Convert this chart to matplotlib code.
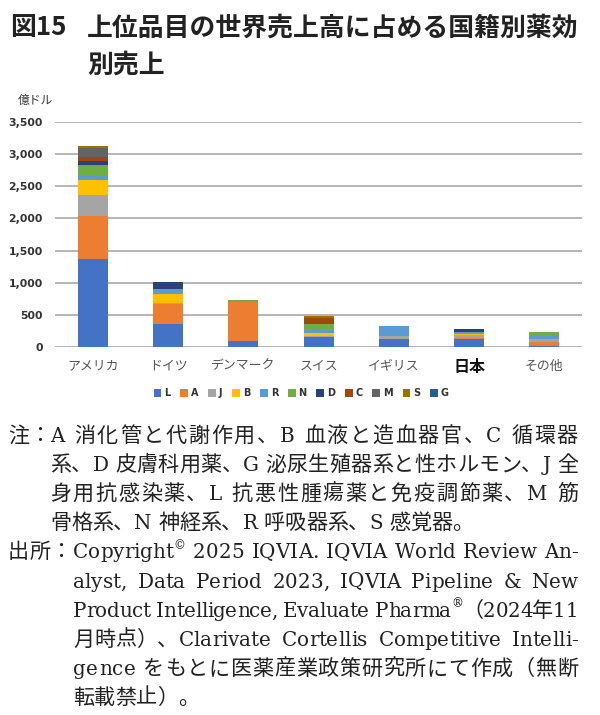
import numpy as np
import matplotlib
matplotlib.use('Agg')
import matplotlib.pyplot as plt
from matplotlib.patches import Patch
from matplotlib.font_manager import FontProperties, findfont, get_font

plt.rcParams['font.family'] = ['Noto Sans CJK JP', 'DejaVu Sans']

# データ（億ドル）
countries = ['アメリカ', 'ドイツ', 'デンマーク', 'スイス', 'イギリス', '日本', 'その他']
series_names = ['L', 'A', 'J', 'B', 'R', 'N', 'D', 'C', 'M', 'S', 'G']
L = [1374, 353, 98, 152, 120, 125, 12]
A = [669, 316, 607, 0, 5, 15, 62]
J = [320, 15, 0, 22, 50, 40, 53]
B = [235, 140, 0, 40, 0, 15, 0]
R = [78, 75, 0, 68, 157, 35, 67]
N = [155, 10, 26, 78, 0, 0, 36]
D = [62, 95, 0, 0, 0, 50, 0]
C = [67, 0, 0, 93, 0, 0, 0]
M = [135, 0, 0, 0, 0, 0, 0]
S = [30, 0, 0, 25, 0, 0, 0]
G = [5, 0, 0, 0, 0, 0, 0]
yticks = [0, 500, 1000, 1500, 2000, 2500, 3000, 3500]

colors = ['#4472C4', '#ED7D31', '#A5A5A5', '#FFC000', '#5B9BD5', '#70AD47',
          '#264478', '#9E480E', '#636363', '#997300', '#255E91']
series = [L, A, J, B, R, N, D, C, M, S, G]

W, H = 600, 715
fig = plt.figure(figsize=(W / 100, H / 100), dpi=100)
ax = fig.add_axes([0.092, 0.5147, 0.878, 0.3147])

x = np.arange(len(countries))
bottom = np.zeros(len(countries))
for name, vals, col in zip(series_names, series, colors):
    vals = np.array(vals, dtype=float)
    ax.bar(x, vals, 0.4, bottom=bottom, color=col, zorder=3)
    bottom += vals

ax.set_xlim(-0.5, len(countries) - 0.5)
ax.set_ylim(0, 3500)
ax.set_yticks(yticks)
ax.set_yticklabels([f'{v:,}' for v in yticks], fontsize=7.8, fontweight='bold',
                   color='#333333', family=['DejaVu Sans'])
ax.grid(axis='y', color='#b0b0b0', linewidth=1.3, zorder=0)
for s in ax.spines.values():
    s.set_visible(False)
ax.tick_params(axis='both', length=0)
ax.tick_params(axis='y', pad=9)
ax.set_xticks(x)
ax.set_xticklabels(countries, fontsize=9.3, color='#555555')
for lab in ax.get_xticklabels():
    if lab.get_text() == '日本':
        lab.set_fontsize(11.5)
        lab.set_fontweight('bold')
        lab.set_color('#111111')
ax.tick_params(axis='x', pad=9)

fig.text(0.03, 0.86, '億ドル', fontsize=8.5, color='#333333', va='center')

handles = [Patch(facecolor=c, label=n) for n, c in zip(series_names, colors)]
leg = fig.legend(handles=handles, loc='center', bbox_to_anchor=(0.502, 0.45),
                 ncol=len(handles), frameon=False, handlelength=0.8,
                 handleheight=0.8, handletextpad=0.3, columnspacing=1.0,
                 prop={'family': 'DejaVu Sans', 'size': 7, 'weight': 'bold'})
for t in leg.get_texts():
    t.set_color('#333333')

# タイトル
fig.text(0.017, 0.961, '図15', fontsize=18.6, fontweight='bold', va='center', color='#222222')
fig.text(0.145, 0.961, '上位品目の世界売上高に占める国籍別薬効', fontsize=18.6,
         fontweight='bold', va='center', color='#222222')
fig.text(0.145, 0.909, '別売上', fontsize=18.6, fontweight='bold', va='center', color='#222222')

# 注・出所（1文字ずつ配置して両端揃え）
cjk_size = 15.2
lat_size = 14.3
lat_font = get_font(findfont(FontProperties(family='DejaVu Serif')))
cjk_font = get_font(findfont(FontProperties(family='Noto Sans CJK JP')))


def char_style(c, sup):
    if ord(c) < 0x2000 and lat_font.get_char_index(ord(c)):
        size = lat_size * (0.6 if sup else 1)
        return lat_font, 'DejaVu Serif', size
    return cjk_font, 'Noto Sans CJK JP', cjk_size


def advance(c, sup):
    f, fam, size = char_style(c, sup)
    f.set_size(size, 100)
    g = f.load_char(ord(c))
    return g.linearHoriAdvance / 65536


def parse(txt):
    out = []
    sup = False
    for c in txt:
        if c == '^':
            sup = True
            continue
        out.append((c, sup))
        sup = False
    return out


def draw_line(txt, x0, base, x1=None, mode='chars'):
    toks = parse(txt)
    advs = [advance(c, sp) for c, sp in toks]
    extra = [0.0] * len(toks)
    if x1 is not None:
        slack = (x1 - x0) - sum(advs)
        idx = [i for i, (c, sp) in enumerate(toks) if c == ' ']
        if mode != 'words' or slack < 0 or not idx:
            idx = list(range(len(toks) - 1))
        for i in idx:
            extra[i] = slack / len(idx)
    xx = x0
    for (c, sp), a, e in zip(toks, advs, extra):
        if c != ' ':
            f, fam, size = char_style(c, sp)
            dy = 9 if sp else 0
            fig.text(xx / W, 1 - (base - dy) / H, c, fontsize=size,
                     family=[fam], va='baseline', ha='left', color='#222222')
        xx += a + e


lines = [
    ('注：', 'A 消化管と代謝作用、B 血液と造血器官、C 循環器', 50, True, 'chars'),
    ('', '系、D 皮膚科用薬、G 泌尿生殖器系と性ホルモン、J 全', 50, True, 'chars'),
    ('', '身用抗感染薬、L 抗悪性腫瘍薬と免疫調節薬、M 筋', 50, True, 'chars'),
    ('', '骨格系、N 神経系、R 呼吸器系、S 感覚器。', 50, False, 'chars'),
    ('出所：', 'Copyright^© 2025 IQVIA. IQVIA World Review An-', 73, True, 'words'),
    ('', 'alyst, Data Period 2023, IQVIA Pipeline & New', 73, True, 'words'),
    ('', 'Product Intelligence, Evaluate Pharma^®（2024年11', 73, True, 'words'),
    ('', '月時点）、Clarivate Cortellis Competitive Intelli-', 73, True, 'words'),
    ('', 'gence をもとに医薬産業政策研究所にて作成（無断', 73, True, 'chars'),
    ('', '転載禁止）。', 73, False, 'chars'),
]
for i, (head, body, x0, just, mode) in enumerate(lines):
    base = 434 + i * 29.1 + 8
    if head:
        draw_line(head, 8, base)
    draw_line(body, x0, base, 578 if just else None, mode)

fig.savefig('out.png', dpi=100, facecolor='white')
